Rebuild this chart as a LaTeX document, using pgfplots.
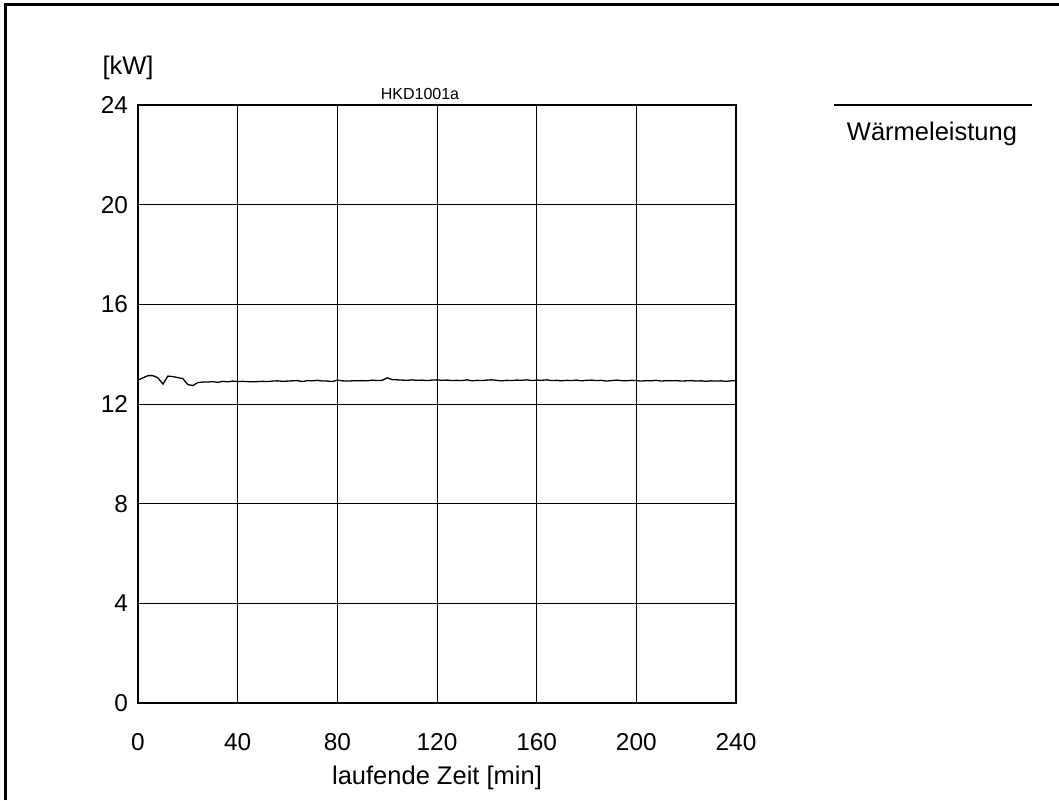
\documentclass[border=0pt]{standalone}
\usepackage{fontspec}
\setmainfont{Liberation Sans}
\usepackage{pgfplots}
\pgfplotsset{compat=1.18}

\begin{document}
\begin{tikzpicture}[x=0.5pt,y=0.5pt]
% picture frame in pixel units of the reference (origin bottom left)
\useasboundingbox (0,0) rectangle (1059,800);
\draw[line width=1.5pt] (5.5,0) -- (5.5,795) -- (1059,795);

\begin{axis}[
    at={(69pt,48.5pt)}, anchor=south west,
    scale only axis,
    width=299pt, height=299pt,
    xmin=0, xmax=240, ymin=0, ymax=24,
    xtick={0,40,...,240},
    ytick={0,4,...,24},
    grid=major,
    major grid style={black, line width=0.5pt},
    axis line style={black, line width=0.6pt},
    major tick length=0pt,
    tick label style={font=\fontsize{12.2}{14}\selectfont},
    /pgf/number format/assume math mode=true,
    xticklabel style={yshift=-11.5pt},
    yticklabel style={xshift=-1.5pt},
    xlabel={laufende Zeit [min]},
    xlabel style={font=\fontsize{12.75}{15}\selectfont, yshift=-1pt},
    clip=false,
]
\addplot[black, line width=0.65pt] coordinates {
(0,12.96) (2,13.05) (4,13.14) (6,13.14) (8,13.05) (10,12.80) (12,13.12)
(14,13.10) (16,13.06) (18,13.02) (20,12.78) (22,12.74) (24,12.86) (26,12.88)
(28,12.88) (30,12.90) (32,12.87) (34,12.91) (36,12.89) (38,12.92) (40,12.90)
(42,12.91) (44,12.90) (46,12.89) (48,12.90) (50,12.91) (52,12.90) (54,12.92)
(56,12.93) (58,12.91) (60,12.92) (62,12.93) (64,12.94) (66,12.90) (68,12.94)
(70,12.93) (72,12.95) (74,12.92) (76,12.92) (78,12.90) (80,12.96) (82,12.93)
(84,12.92) (86,12.93) (88,12.93) (90,12.94) (92,12.93) (94,12.96) (96,12.94)
(98,12.95) (100,13.05) (102,12.98) (104,12.97) (106,12.96) (108,12.95) (110,12.97)
(112,12.95) (114,12.96) (116,12.94) (118,12.96) (120,12.97) (122,12.95) (124,12.96)
(126,12.94) (128,12.95) (130,12.94) (132,12.97) (134,12.93) (136,12.95) (138,12.94)
(140,12.96) (142,12.97) (144,12.95) (146,12.93) (148,12.95) (150,12.94) (152,12.96)
(154,12.95) (156,12.97) (158,12.94) (160,12.96) (162,12.95) (164,12.97) (166,12.94)
(168,12.95) (170,12.93) (172,12.95) (174,12.94) (176,12.96) (178,12.93) (180,12.95)
(182,12.96) (184,12.94) (186,12.95) (188,12.92) (190,12.94) (192,12.96) (194,12.94)
(196,12.93) (198,12.95) (200,12.94) (202,12.92) (204,12.94) (206,12.93) (208,12.95)
(210,12.92) (212,12.94) (214,12.93) (216,12.94) (218,12.92) (220,12.93) (222,12.94)
(224,12.92) (226,12.93) (228,12.91) (230,12.93) (232,12.92) (234,12.93) (236,12.91)
(238,12.93) (240,12.93)
};
\end{axis}

% unit, title and legend
\node[font=\fontsize{12.75}{15}\selectfont] at (128,732) {[kW]};
\node[font=\fontsize{8}{10}\selectfont] at (420,706) {HKD1001a};
\draw[black, line width=0.6pt] (834,695) -- (1032,695);
\node[font=\fontsize{12.75}{15}\selectfont] at (932,666) {Wärmeleistung};
\end{tikzpicture}
\end{document}
